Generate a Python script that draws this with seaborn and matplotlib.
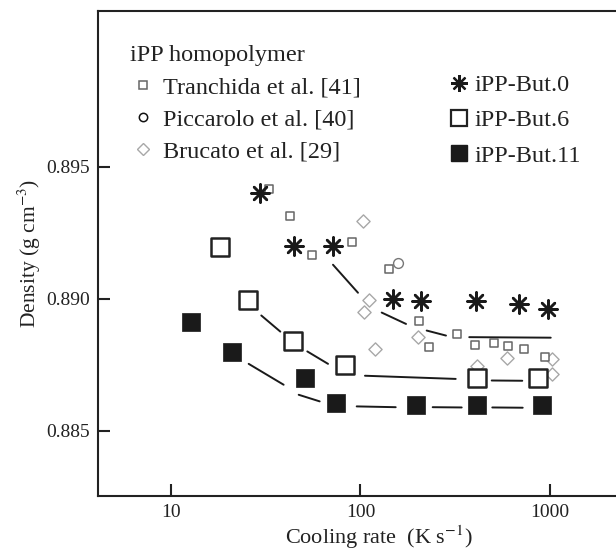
import numpy as np
import pandas as pd
import matplotlib
matplotlib.use("Agg")
import matplotlib.pyplot as plt
from matplotlib.lines import Line2D
from matplotlib.ticker import NullLocator, FixedLocator, FixedFormatter
import seaborn as sns

# ---------------- data ----------------
# iPP-But.0 (asterisks)
but0_x = [29.6, 44.6, 71.6, 148.9, 208.5, 405, 686, 972]
but0_y = [0.8940, 0.8920, 0.8920, 0.8900, 0.8899, 0.8899, 0.8898, 0.8896]
# iPP-But.6 (large open squares)
but6_x = [18.1, 25.5, 43.9, 82.8, 410, 861]
but6_y = [0.89196, 0.88996, 0.88839, 0.88748, 0.88700, 0.88700]
# iPP-But.11 (filled squares)
but11_x = [12.8, 21.0, 50.8, 74.0, 196.3, 410, 910]
but11_y = [0.88912, 0.88797, 0.88699, 0.88606, 0.88599, 0.88599, 0.88599]
# Tranchida et al. [41] (small open squares)
tran_x = [32.9, 42.6, 55.3, 90.2, 141.9, 202.8, 324.6, 230.7, 401.8, 506.5, 602.6, 729.6, 937]
tran_y = [0.89415, 0.89314, 0.89165, 0.89214, 0.89114, 0.88918, 0.88868, 0.88817,
          0.88826, 0.88831, 0.88822, 0.88810, 0.88781]
# Piccarolo et al. [40] (circle)
picc_x = [158.3]
picc_y = [0.89135]
# Brucato et al. [29] (diamonds)
bruc_x = [102.7, 111.3, 104.4, 119.3, 201.8, 590.8, 1028, 1028, 410]
bruc_y = [0.89296, 0.88994, 0.88950, 0.88812, 0.88854, 0.88776, 0.88773, 0.88715, 0.88747]

# Guide lines (segment end points, broken around markers)
line0_x = [71.6, 97.0, 129.4, 173.9, 223.5, 282.6, 374.9, 1009]
line0_y = [0.89129, 0.89023, 0.88948, 0.88905, 0.88880, 0.88861, 0.88855, 0.88853]
line0_seg = [0, 0, 1, 1, 2, 2, 3, 3]
line6_x = [29.96, 37.75, 52.4, 67.4, 105.6, 318, 492.5, 714]
line6_y = [0.88937, 0.88876, 0.88801, 0.88754, 0.88709, 0.88697, 0.88691, 0.88690]
line6_seg = [0, 0, 1, 1, 2, 2, 3, 3]
line11_x = [25.7, 39.3, 47.2, 60.9, 95.5, 153.4, 240.4, 342, 496, 717.8]
line11_y = [0.88754, 0.88675, 0.88637, 0.88612, 0.88593, 0.88590, 0.88590, 0.88589, 0.88589, 0.88588]
line11_seg = [0, 0, 1, 1, 2, 2, 3, 3, 4, 4]

xticks = [10, 100, 1000]
xtick_labels = ["10", "100", "1000"]
yticks = [0.885, 0.890, 0.895]
ytick_labels = ["0.885", "0.890", "0.895"]

# ---------------- style ----------------
sns.set_style("ticks")
plt.rcParams["font.family"] = ["Liberation Serif", "DejaVu Serif"]
plt.rcParams["mathtext.fontset"] = "stix"

W, H = 616, 551
fig = plt.figure(figsize=(W / 100, H / 100), dpi=100)
ax = fig.add_axes([98 / W, 55 / H, 1 - 98 / W, (496 - 11) / H])

# guide lines
for lx, ly, ls in [(line0_x, line0_y, line0_seg), (line6_x, line6_y, line6_seg),
                   (line11_x, line11_y, line11_seg)]:
    df = pd.DataFrame({"x": lx, "y": ly, "seg": ls})
    sns.lineplot(data=df, x="x", y="y", units="seg", estimator=None, sort=False,
                 color="#1a1a1a", linewidth=1.4, ax=ax, legend=False, zorder=2)

# homopolymer literature data
sns.scatterplot(x=bruc_x, y=bruc_y, marker="D", s=45, facecolor="white",
                edgecolor="#a8a8a8", linewidth=1.0, ax=ax, zorder=3)
sns.scatterplot(x=tran_x, y=tran_y, marker="s", s=36, facecolor="white",
                edgecolor="#666666", linewidth=1.1, ax=ax, zorder=4)
sns.scatterplot(x=picc_x, y=picc_y, marker="o", s=50, facecolor="white",
                edgecolor="#777777", linewidth=1.0, ax=ax, zorder=4)

# copolymer data
sns.scatterplot(x=but0_x, y=but0_y, marker=(8, 2, 0), s=170, color="#1a1a1a",
                linewidth=1.8, ax=ax, zorder=5)
sns.scatterplot(x=but6_x, y=but6_y, marker="s", s=180, facecolor="white",
                edgecolor="#222222", linewidth=1.8, ax=ax, zorder=5)
sns.scatterplot(x=but11_x, y=but11_y, marker="s", s=155, facecolor="#1a1a1a",
                edgecolor="#1a1a1a", linewidth=0.5, ax=ax, zorder=5)

ax.set_xscale("log")
ax.set_xlim(4.12, 2230)
ax.set_ylim(0.88254, 0.90089)
ax.xaxis.set_major_locator(FixedLocator(xticks))
ax.xaxis.set_major_formatter(FixedFormatter(xtick_labels))
ax.xaxis.set_minor_locator(NullLocator())
ax.yaxis.set_major_locator(FixedLocator(yticks))
ax.yaxis.set_major_formatter(FixedFormatter(ytick_labels))
ax.yaxis.set_minor_locator(NullLocator())
ax.tick_params(direction="in", length=8.5, width=1.5, labelsize=14, pad=6,
               colors="#222222", labelcolor="#222222")

for side in ["left", "bottom", "top"]:
    ax.spines[side].set_linewidth(1.5)
    ax.spines[side].set_color("#222222")
    ax.spines[side].set_visible(True)
ax.spines["right"].set_visible(False)

ax.set_xlabel("Cooling rate  (K s$^{-1}$)", fontsize=16, color="#222222")
ax.set_ylabel("Density (g cm$^{-3}$)", fontsize=15.5, color="#222222")
ax.xaxis.set_label_coords(0.543, -0.057)
ax.yaxis.set_label_coords(-0.107, 0.5)

# legends
FS = 17.5
h_left = [
    Line2D([], [], linestyle="none", marker="s", markersize=6, markerfacecolor="white",
           markeredgecolor="#666666", markeredgewidth=1.1, label="Tranchida et al. [41]"),
    Line2D([], [], linestyle="none", marker="o", markersize=6, markerfacecolor="white",
           markeredgecolor="#111111", markeredgewidth=1.1, label="Piccarolo et al. [40]"),
    Line2D([], [], linestyle="none", marker="D", markersize=6, markerfacecolor="white",
           markeredgecolor="#a8a8a8", markeredgewidth=1.0, label="Brucato et al. [29]"),
]
leg1 = ax.legend(handles=h_left, title="iPP homopolymer", loc="upper left",
                 bbox_to_anchor=(130 / W, 1 - 45 / H), bbox_transform=fig.transFigure,
                 frameon=False, fontsize=FS, title_fontsize=FS, handlelength=1.1,
                 handletextpad=0.25, labelspacing=0.42, borderpad=0, borderaxespad=0,
                 alignment="left")
for t in leg1.get_texts():
    t.set_color("#222222")
leg1.get_title().set_color("#222222")
ax.add_artist(leg1)

h_right = [
    Line2D([], [], linestyle="none", marker=(8, 2, 0), markersize=12,
           markeredgecolor="#1a1a1a", markeredgewidth=1.6, label="iPP-But.0"),
    Line2D([], [], linestyle="none", marker="s", markersize=11, markerfacecolor="white",
           markeredgecolor="#222222", markeredgewidth=1.6, label="iPP-But.6"),
    Line2D([], [], linestyle="none", marker="s", markersize=11, markerfacecolor="#1a1a1a",
           markeredgecolor="#1a1a1a", label="iPP-But.11"),
]
leg2 = ax.legend(handles=h_right, loc="upper left",
                 bbox_to_anchor=(448 / W, 1 - 74 / H), bbox_transform=fig.transFigure,
                 frameon=False, fontsize=FS, handlelength=0.9, handletextpad=0.2,
                 labelspacing=0.55, borderpad=0, borderaxespad=0)
for t in leg2.get_texts():
    t.set_color("#222222")

fig.savefig("out.png", dpi=100)
